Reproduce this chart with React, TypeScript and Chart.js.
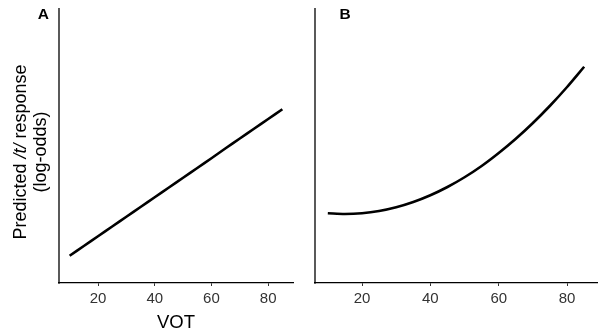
import React, { useEffect, useRef } from "react";
import { Chart, registerables } from "chart.js";

Chart.register(...registerables);

// VOT values (x) at which the predictions are read
const vot = [10, 15, 20, 25, 30, 35, 40, 45, 50, 55, 60, 65, 70, 75, 80, 85];
// Panel A: linear VOT effect (log-odds)
const panelA = [-1.91, -1.52, -1.13, -0.74, -0.35, 0.04, 0.43, 0.82, 1.21, 1.6, 1.99, 2.39, 2.78, 3.17, 3.56, 3.95];
// Panel B: quadratic VOT effect (log-odds)
const panelB = [-0.21, -0.24, -0.21, -0.12, 0.03, 0.24, 0.51, 0.84, 1.23, 1.68, 2.2, 2.77, 3.4, 4.09, 4.84, 5.65];
const xTickValues = [20, 40, 60, 80];
const xLabel = "VOT";
const yLabelParts = [
  { text: "Predicted ", italic: false },
  { text: "/t/", italic: true },
  { text: " response", italic: false },
];
const yLabelLine2 = "(log-odds)";
const panelLetters = ["A", "B"];

const FONT = "'Liberation Sans', Arial, Helvetica, sans-serif";

function makeChart(
  canvas: HTMLCanvasElement,
  data: number[],
  padLeft: number,
  padRight: number,
  letter: string,
  letterX: number,
  showY: boolean,
  showX: boolean
) {
  const overlay = {
    id: "overlay" + letter,
    afterDraw(chart: any) {
      const { ctx, chartArea } = chart;
      ctx.save();
      // y axis line
      ctx.strokeStyle = "#000";
      ctx.lineWidth = 1.3;
      ctx.beginPath();
      ctx.moveTo(chartArea.left, chartArea.top);
      ctx.lineTo(chartArea.left, chartArea.bottom + 0.65);
      ctx.stroke();
      // panel letter
      ctx.fillStyle = "#000";
      ctx.font = `bold 15.5px ${FONT}`;
      ctx.textAlign = "center";
      ctx.textBaseline = "middle";
      ctx.fillText(letter, letterX, 14.5);
      if (showY) {
        // y title with italic /t/
        ctx.translate(20.7, 152);
        ctx.rotate(-Math.PI / 2);
        ctx.textAlign = "left";
        ctx.textBaseline = "middle";
        const widths = yLabelParts.map((p) => {
          ctx.font = `${p.italic ? "italic " : ""}18px ${FONT}`;
          return ctx.measureText(p.text).width;
        });
        const total = widths.reduce((a, b) => a + b, 0);
        let x = -total / 2;
        yLabelParts.forEach((p, i) => {
          ctx.font = `${p.italic ? "italic " : ""}18px ${FONT}`;
          ctx.fillText(p.text, x, 0);
          x += widths[i];
        });
        ctx.font = `18px ${FONT}`;
        ctx.textAlign = "center";
        ctx.fillText(yLabelLine2, 0, 20.5);
      }
      ctx.restore();
    },
  };

  return new Chart(canvas, {
    type: "line",
    data: {
      labels: vot,
      datasets: [
        {
          data: vot.map((v, i) => ({ x: v, y: data[i] })),
          borderColor: "#000",
          borderWidth: 2.6,
          pointRadius: 0,
          tension: 0.3,
          fill: false,
        },
      ],
    },
    options: {
      animation: false,
      responsive: false,
      devicePixelRatio: 1,
      layout: { padding: { left: padLeft, right: padRight, top: 8, bottom: 0 } },
      plugins: { legend: { display: false }, tooltip: { enabled: false } },
      scales: {
        x: {
          type: "linear",
          min: 6.25,
          max: 88.75,
          afterBuildTicks: (scale: any) => {
            scale.ticks = xTickValues.map((v) => ({ value: v }));
          },
          afterFit: (scale: any) => {
            scale.height = 52;
          },
          grid: {
            drawOnChartArea: false,
            drawTicks: true,
            tickLength: 3,
            color: "#333",
            lineWidth: 1,
          },
          border: { display: true, color: "#000", width: 1.3 },
          ticks: {
            color: "#333",
            font: { family: FONT, size: 15 },
            padding: 4,
            maxRotation: 0,
          },
          title: {
            display: showX,
            text: xLabel,
            color: "#000",
            font: { family: FONT, size: 18.5, lineHeight: 1 },
            padding: { top: 0, bottom: 3 },
          },
        },
        y: {
          type: "linear",
          min: -3,
          max: 8,
          display: false,
        },
      },
    },
    plugins: [overlay],
  });
}

export default function App() {
  const refA = useRef<HTMLCanvasElement>(null);
  const refB = useRef<HTMLCanvasElement>(null);

  useEffect(() => {
    document.body.style.margin = "0";
    const a = makeChart(refA.current!, panelA, 59, 7, panelLetters[0], 43.3, true, true);
    const b = makeChart(refB.current!, panelB, 15, 4, panelLetters[1], 45, false, false);
    return () => {
      a.destroy();
      b.destroy();
    };
  }, []);

  return (
    <div style={{ position: "absolute", left: 0, top: 0, width: 601, height: 335, background: "#fff" }}>
      <canvas ref={refA} width={300} height={335} style={{ position: "absolute", left: 0, top: 0 }} />
      <canvas ref={refB} width={301} height={335} style={{ position: "absolute", left: 300, top: 0 }} />
    </div>
  );
}
